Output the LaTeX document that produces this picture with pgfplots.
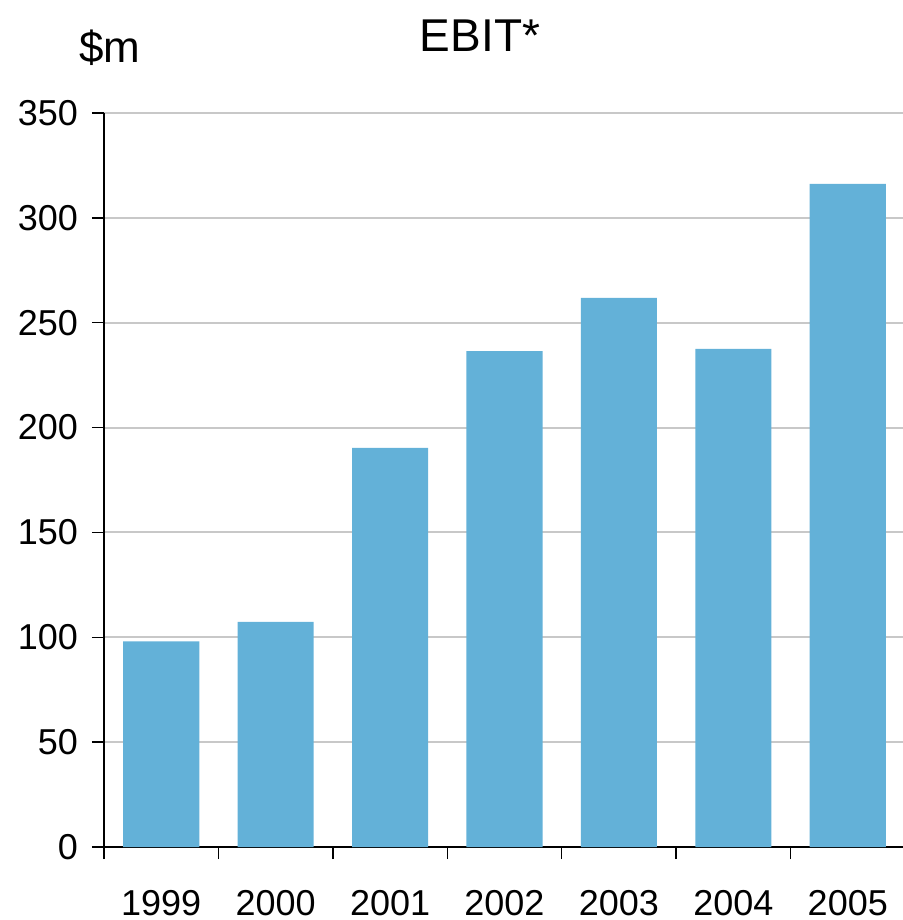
\documentclass[border=0pt]{standalone}
\usepackage{fontspec}
\setmainfont{Liberation Sans}
\usepackage{pgfplots}
\pgfplotsset{compat=1.18}
\definecolor{barblue}{HTML}{63B1D8}
\definecolor{gridgray}{HTML}{C8C8C8}

\begin{document}
\begin{tikzpicture}
\useasboundingbox (-52pt,-36.5pt) rectangle (399.5pt,423.5pt);
\begin{axis}[
  at={(0pt,0pt)}, anchor=south west,
  scale only axis,
  width=400.5pt, height=367pt,
  xmin=-0.5, xmax=6.5,
  ymin=0, ymax=350,
  ybar, bar width=0.665,
  axis lines=left,
  axis line style={-, black, line width=0.7pt},
  ytick={0,50,...,350},
  ymajorgrids,
  grid style={gridgray, line width=1pt},
  tick align=outside,
  major tick length=6pt,
  tick style={black, line width=0.7pt},
  % category boundaries carry the tick marks, centres carry the year labels
  xtick={-0.5,0.5,...,6.5},
  xticklabels={,,,,,,,,},
  extra x ticks={0,1,2,3,4,5,6},
  extra x tick labels={1999,2000,2001,2002,2003,2004,2005},
  extra x tick style={major tick length=0pt, grid=none,
    xticklabel style={yshift=-18pt}},
  /pgf/number format/assume math mode=true,
  /pgf/number format/1000 sep={},
  ticklabel style={font=\fontsize{18}{20}\selectfont},
  yticklabel style={xshift=-3.5pt},
]
\addplot[fill=barblue, draw=none] coordinates {
  (0,98) (1,107.3) (2,190.3) (3,236.5) (4,261.8) (5,237.5) (6,316.2)
};
\end{axis}
\node[anchor=base, inner sep=0pt, font=\fontsize{23}{26}\selectfont] at (188pt,397.5pt) {EBIT*};
\node[anchor=base west, inner sep=0pt, font=\fontsize{22}{26}\selectfont] at (-12.5pt,392pt) {\$m};
\end{tikzpicture}
\end{document}
